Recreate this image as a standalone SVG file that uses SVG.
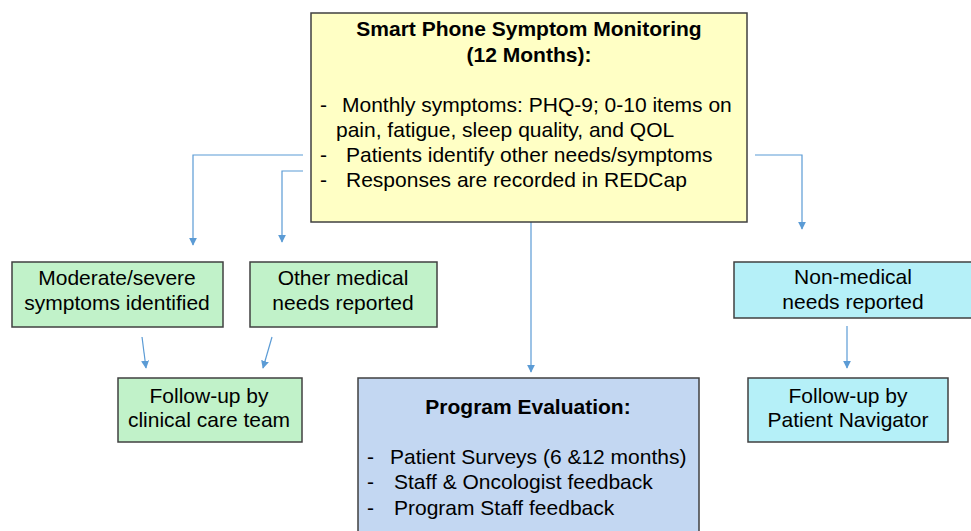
<svg xmlns="http://www.w3.org/2000/svg" width="971" height="531" viewBox="0 0 971 531">
<style>
.box{stroke:#404040;stroke-width:1.5}
.y{fill:#ffffc5}
.g{fill:#c1f2c9}
.b{fill:#c3d7f2}
.c{fill:#b5f0f8}
text{font-family:"Liberation Sans",Arial,sans-serif;font-size:21px;fill:#000}
.t{text-anchor:middle}
.bold{font-weight:bold}
.conn{fill:none;stroke:#5b9bd5;stroke-width:1.2}
</style>
<defs>
<marker id="ah" viewBox="0 0 10 10" refX="9" refY="5" markerWidth="8" markerHeight="8" markerUnits="userSpaceOnUse" orient="auto">
<path d="M0,0 L10,5 L0,10 z" fill="#5b9bd5"/>
</marker>
</defs>
<rect width="971" height="531" fill="#ffffff"/>
<g id="connectors">
<path class="conn" d="M303,155 H193 V245" marker-end="url(#ah)"/>
<path class="conn" d="M303,171 H282 V242" marker-end="url(#ah)"/>
<path class="conn" d="M755,155 H802 V229" marker-end="url(#ah)"/>
<path class="conn" d="M531,222 V372" marker-end="url(#ah)"/>
<path class="conn" d="M142,337 L146,368" marker-end="url(#ah)"/>
<path class="conn" d="M272,337 L263,368" marker-end="url(#ah)"/>
<path class="conn" d="M847,326 V368" marker-end="url(#ah)"/>
</g>
<g id="monitoring">
<rect class="box y" x="311" y="13" width="436" height="209"/>
<text class="t bold" x="529" y="36">Smart Phone Symptom Monitoring</text>
<text class="t bold" x="529" y="62">(12 Months):</text>
<text x="320" y="112">-</text>
<text x="342" y="112">Monthly symptoms: PHQ-9; 0-10 items on</text>
<text x="336" y="137">pain, fatigue, sleep quality, and QOL</text>
<text x="320" y="162">-</text>
<text x="346" y="162">Patients identify other needs/symptoms</text>
<text x="320" y="187">-</text>
<text x="346" y="187">Responses are recorded in REDCap</text>
</g>
<g id="moderate">
<rect class="box g" x="12" y="262" width="211" height="65"/>
<text class="t" x="117" y="285">Moderate/severe</text>
<text class="t" x="117" y="310">symptoms identified</text>
</g>
<g id="othermedical">
<rect class="box g" x="250" y="262" width="187" height="65"/>
<text class="t" x="343" y="285">Other medical</text>
<text class="t" x="343" y="310">needs reported</text>
</g>
<g id="nonmedical">
<rect class="box c" x="734" y="262" width="245" height="56"/>
<text class="t" x="853" y="284">Non-medical</text>
<text class="t" x="853" y="309">needs reported</text>
</g>
<g id="clinical">
<rect class="box g" x="118" y="378" width="184" height="64"/>
<text class="t" x="209" y="403">Follow-up by</text>
<text class="t" x="209" y="427">clinical care team</text>
</g>
<g id="navigator">
<rect class="box c" x="748" y="378" width="200" height="64"/>
<text class="t" x="848" y="403">Follow-up by</text>
<text class="t" x="848" y="427">Patient Navigator</text>
</g>
<g id="evaluation">
<rect class="box b" x="358" y="378" width="341" height="170"/>
<text class="t bold" x="528" y="414">Program Evaluation:</text>
<text x="367" y="464">-</text>
<text x="390" y="464">Patient Surveys (6 &amp;12 months)</text>
<text x="367" y="489">-</text>
<text x="394" y="489">Staff &amp; Oncologist feedback</text>
<text x="367" y="515">-</text>
<text x="394" y="515">Program Staff feedback</text>
</g>
</svg>
